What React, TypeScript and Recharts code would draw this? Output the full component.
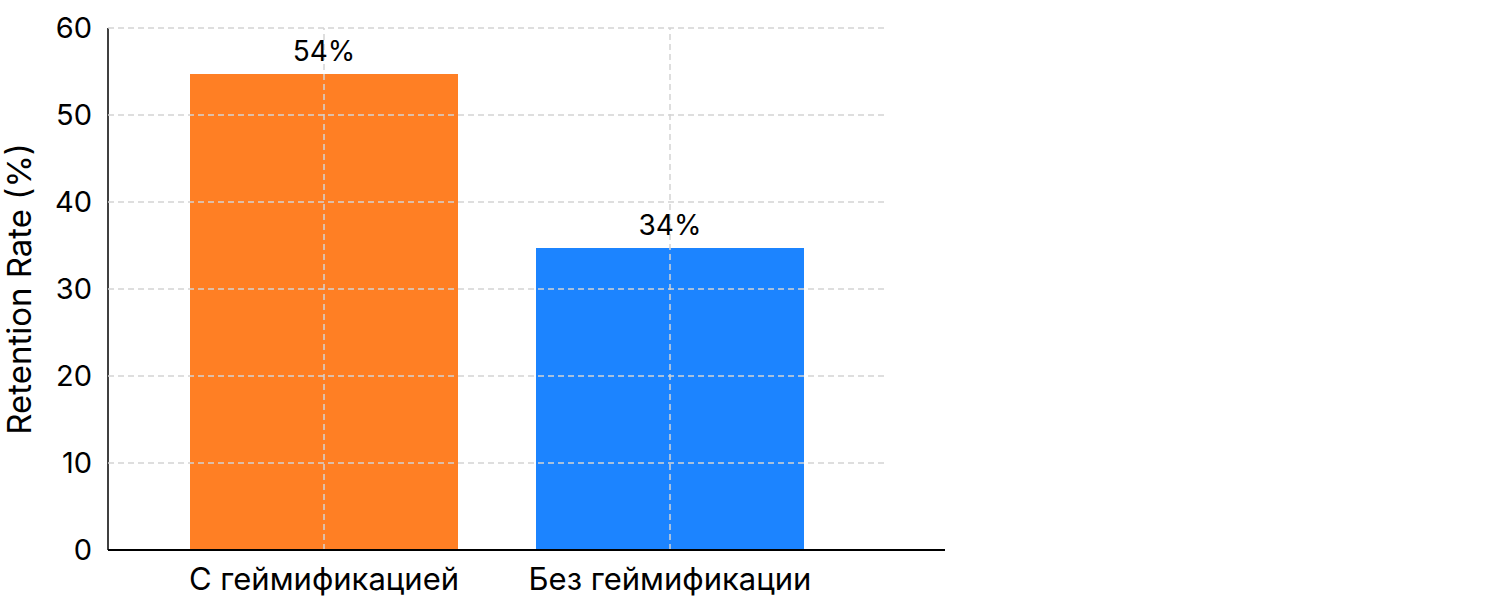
import React from 'react';
import { BarChart, Bar, XAxis, YAxis, CartesianGrid, Cell, LabelList, ReferenceLine } from 'recharts';

const categories = ['С геймификацией', 'Без геймификации'];
const retention = [54.7, 34.7];
const barLabels = ['54%', '34%'];
const barColors = ['#ff7f24', '#1c84ff'];
const yTicks = [0, 10, 20, 30, 40, 50, 60];

const data = categories.map((name, i) => ({ name, value: retention[i], label: barLabels[i] }));

const FONT = 'Inter, "Noto Sans", sans-serif';
const GRID = { stroke: '#d4d4d4', strokeWidth: 1.5, strokeDasharray: '6 4' };

export default function App() {
  return (
    <div style={{ position: 'absolute', left: 0, top: 0, width: 1502, height: 612, background: '#fff', fontFamily: FONT }}>
      <BarChart width={1502} height={612} data={data} margin={{ top: 28, right: 557, bottom: 0, left: 0 }} barCategoryGap={39}>
        <XAxis
          dataKey="name"
          height={62}
          padding={{ left: 43, right: 102 }}
          axisLine={{ stroke: '#000', strokeWidth: 2 }}
          tickLine={false}
          tick={{ fill: '#000', fontSize: 31, fontFamily: FONT }}
          tickMargin={12}
        />
        <YAxis
          width={108}
          domain={[0, 60]}
          ticks={yTicks}
          axisLine={{ stroke: '#000', strokeWidth: 1.5 }}
          tickLine={false}
          tick={{ fill: '#000', fontSize: 29, fontFamily: FONT }}
          tickMargin={10}
          label={{ value: 'Retention Rate (%)', angle: -90, position: 'insideLeft', offset: 19, style: { textAnchor: 'middle', fill: '#000', fontSize: 33, fontFamily: FONT } }}
        />
        <Bar dataKey="value" isAnimationActive={false}>
          {data.map((d, i) => <Cell key={d.name} fill={barColors[i]} />)}
          <LabelList dataKey="label" position="top" offset={13} style={{ fill: '#000', fontSize: 28, fontFamily: FONT }} />
        </Bar>
        <CartesianGrid zIndex={600} width={777} vertical={false} horizontalValues={yTicks.slice(1)} {...GRID} />
        {categories.map(c => <ReferenceLine key={c} x={c} {...GRID} />)}
      </BarChart>
    </div>
  );
}
